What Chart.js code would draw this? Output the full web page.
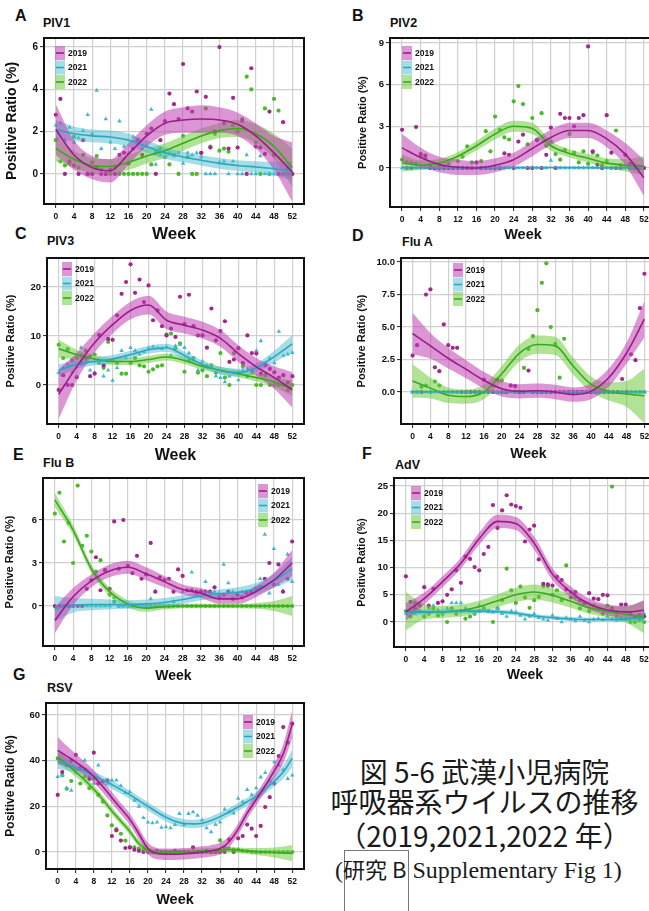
<!DOCTYPE html>
<html>
<head>
<meta charset="utf-8">
<script src="https://cdn.jsdelivr.net/npm/chart.js@4.4.0/dist/chart.umd.min.js"></script>
<style>
  body { margin: 0; width: 649px; height: 911px; overflow: hidden; background: #fff; position: relative; font-family: "Liberation Sans", Arial, sans-serif; }
  canvas { position: absolute; }
  .letter { position: absolute; font-weight: bold; font-size: 16px; line-height: 16px; color: #111; }
  .virus { position: absolute; font-weight: bold; font-size: 12.5px; line-height: 13px; color: #111; }
  .cap { position: absolute; left: 320px; width: 329px; text-align: center; font-family: "Noto Sans CJK JP", sans-serif; font-size: 28px; line-height: 32px; color: #1a1a1a; white-space: nowrap; }
  .src { position: absolute; left: 335px; top: 852px; font-family: "Liberation Serif", serif; font-size: 24px; line-height: 32px; color: #1a1a1a; white-space: nowrap; }
  .src .jp { font-family: "Noto Sans CJK JP", sans-serif; font-size: 22px; }
  .srcbox { position: absolute; left: 344px; top: 850px; width: 63px; height: 70px; border: 1px solid #777; }
</style>
</head>
<body>
<div class="letter" style="left:15px;top:8px">A</div>
<div class="virus" style="left:43px;top:17px">PIV1</div>
<div class="letter" style="left:352px;top:8px">B</div>
<div class="virus" style="left:390px;top:17px">PIV2</div>
<div class="letter" style="left:15px;top:226px">C</div>
<div class="virus" style="left:47px;top:235px">PIV3</div>
<div class="letter" style="left:352px;top:228px">D</div>
<div class="virus" style="left:402px;top:236px">Flu A</div>
<div class="letter" style="left:13px;top:447px">E</div>
<div class="virus" style="left:43px;top:457px">Flu B</div>
<div class="letter" style="left:362px;top:446px">F</div>
<div class="virus" style="left:395px;top:459px">AdV</div>
<div class="letter" style="left:13px;top:667px">G</div>
<div class="virus" style="left:47px;top:682px">RSV</div>

<div class="cap" style="top:755px">図 5-6 武漢小児病院</div>
<div class="cap" style="top:785px">呼吸器系ウイルスの推移</div>
<div class="cap" style="top:819px">（2019,2021,2022 年）</div>
<div class="srcbox"></div>
<div class="src">(<span class="jp">研究 B</span> Supplementary Fig 1)</div>

<script>
// weeks of the weekly points and of the smoothed fits
const weeks = [0,1,2,3,4,5,6,7,8,9,10,11,12,13,14,15,16,17,18,19,20,21,22,23,24,25,26,
  27,28,29,30,31,32,33,34,35,36,37,38,39,40,41,42,43,44,45,46,47,48,49,50,51,52];
const fitWeeks = [0,4,8,12,16,20,24,28,32,36,40,44,48,52];
const fitWeeksFine = [0,2,4,6,8,10,12,14,16,18,20,22,24,26,28,30,32,34,36,38,40,42,44,46,48,50,52];
const xTicks = [0,4,8,12,16,20,24,28,32,36,40,44,48,52];
const years = ['2019', '2021', '2022'];

// A: PIV1
const piv1Pts2019 = [2.8,3.55,0,0.6,0.4,0,1.6,0,0,0.3, 0,0,0.2,0,0.9,1.0,0.5,1.2,1.6,0.9,
  1.9,2.15,0,1.6,2.5,3.8,3.3,2.6,5.2,3.1, 2.95,3.9,1.0,3.65,1.25,2.0,6.0,2.4,1.2,3.6,
  1.25,2.5,0,5.0,1.3,1.25,0.95,2.95,0.9,0, 2.45,0.3,0];
const piv1Pts2021 = [2.3,2.4,1.6,2.2,1.5,1.7,2.05,2.8,1.9,3.95, 1.2,2.6,1.5,1.2,2.5,1.3,1.0,1.75,1.6,1.2,
  1.3,3.05,0.45,0.9,0.8,1.0,0.85,1.0,0.5,1.0, 0.9,1.0,0.8,0,0,0,0.55,0.6,0,0.6,
  0,0,0.9,0,0,0.85,0,0,0,0, 0,0,0];
const piv1Pts2022 = [1.6,0.6,0.4,0.5,1.75,0.3,0.9,0,0.55,0.85, 0.2,0,0,0.35,0,0,0,0,0,0,
  0,0.45,1.0,1.2,0.8,0.45,0.9,0,1.8,0.8, 0,0,1.0,3.1,1.3,1.9,1.1,1.2,1.05,2.3,
  2.0,2.6,4.6,4.0,1.5,0,3.1,0,3.55,3.0, 0,0,0];
const piv1Fit2019 = [2.1,0.9,0.3,0.15,0.95,1.8,2.4,2.55,2.6,2.55,2.35,1.8,1.0,0.1];
const piv1Se2019 = [1.2,0.7,0.55,0.55,0.5,0.5,0.55,0.6,0.65,0.6,0.55,0.6,0.8,1.4];
const piv1Fit2021 = [2.1,1.9,1.8,1.75,1.6,1.3,1.0,0.8,0.65,0.5,0.4,0.33,0.25,0.15];
const piv1Se2021 = [0.45,0.35,0.3,0.3,0.3,0.3,0.28,0.25,0.25,0.25,0.25,0.27,0.32,0.45];
const piv1Fit2022 = [1.2,0.7,0.4,0.35,0.55,0.85,1.1,1.45,1.8,2.05,2.15,1.9,1.3,0.3];
const piv1Se2022 = [0.6,0.4,0.35,0.35,0.35,0.35,0.35,0.35,0.35,0.35,0.4,0.45,0.6,0.9];
const piv1YTicks = [0,2,4,6];
const piv1YLabels = ['0','2','4','6'];

// B: PIV2
const piv2Pts2019 = [2.75,0,0,2.95,1.0,0.9,0,0,0,0, 0,0,0,0,0,0,0.4,0,0,0,
  0,0,1.05,0.95,0,1.9,2.4,0,0,2.0, 0,0.95,2.9,0,3.9,3.6,3.6,3.0,3.6,3.8,
  8.75,1.2,0.25,0,3.8,1.1,0,0,0.95,0.3, 0,0,0];
const piv2Pts2021 = [0,0,0,0,0,0,0,0,0,0, 0,0,0,0,0,0,0,0,0,0,
  0,0,0,0,0,0,0,0,0,0, 0,0,0.55,0,0,0,0,0,0,0,
  0,0,0,0,0,0,0,0,0,0, 0,0,0];
const piv2Pts2022 = [0.6,0.4,0.35,0.3,0.85,0.7,0.2,0,0.1,0, 0.3,0,0.5,0.8,1.55,0.4,0,0.5,2.65,1.2,
  3.7,2.75,2.2,2.05,4.8,5.9,4.6,1.7,3.6,2.05, 3.95,1.6,1.9,1.0,0.6,1.3,2.45,1.1,0.4,1.2,
  0.3,1.1,0.9,0.2,0.5,0,2.7,0.2,0.1,0, 0.2,0.1,0];
const piv2Fit2019 = [1.45,0.75,0.25,0.05,0.0,0.2,0.6,1.4,2.2,2.7,2.7,2.1,1.0,-0.7];
const piv2Se2019 = [1.0,0.7,0.55,0.55,0.5,0.5,0.5,0.55,0.55,0.55,0.55,0.6,0.8,1.3];
const piv2Fit2021 = [0.03,0.02,0.02,0.02,0.02,0.02,0.03,0.03,0.03,0.03,0.03,0.02,0.02,0.02];
const piv2Se2021 = [0.1,0.08,0.07,0.07,0.07,0.07,0.07,0.07,0.07,0.07,0.07,0.07,0.08,0.1];
const piv2Fit2022 = [0.35,0.2,0.35,0.85,1.6,2.45,3.0,2.85,1.6,1.05,0.7,0.35,0.2,0.15];
const piv2Se2022 = [0.6,0.35,0.3,0.3,0.35,0.4,0.4,0.4,0.35,0.3,0.3,0.35,0.45,0.7];
const piv2YTicks = [0,3,6,9];
const piv2YLabels = ['0','3','6','9'];

// C: PIV3
const piv3Pts2019 = [-1,2.0,0,0,1.6,4.5,5.5,1.8,2.3,10.2, 4.0,9.4,9.2,14.2,18.6,21.0,24.6,18.8,21.5,16.9,
  20.3,13.2,15.2,12.0,10.1,11.5,9.8,18.0,12.4,18.4, 12.0,10.1,10.1,7.6,15.6,9.1,11.0,13.0,4.7,5.2,
  7.5,4.5,10.1,6.5,6.4,2.3,4.0,3.3,2.6,1.5, 2.0,0.5,1.8];
const piv3Pts2021 = [2.5,3.5,4.2,2.6,3.8,7.6,4.5,3.0,2.5,4.5, 1.8,3.0,0.9,3.5,7.0,5.5,7.6,7.0,6.3,6.8,
  7.5,7.8,7.5,7.4,7.8,6.0,8.0,8.2,7.6,6.5, 5.0,3.0,4.8,4.0,3.5,1.8,1.5,0.6,1.8,2.5,
  1.0,3.0,3.2,3.0,7.0,9.0,4.5,5.5,4.5,10.9, 6.0,6.3,6.6];
const piv3Pts2022 = [8.2,5.5,7.3,5.0,5.5,6.0,7.0,5.8,6.2,4.5, 3.5,8.8,5.0,4.5,2.3,2.3,4.5,5.5,4.0,3.8,
  2.7,3.2,3.8,4.0,10.3,10.5,7.5,8.5,2.7,5.0, 5.5,2.5,3.0,1.8,4.0,2.5,6.5,1.5,0,6.5,
  2.5,3.8,1.8,2.5,0,0,2.0,0,0,0, 0,-1,0];
const piv3Fit2019 = [-1.9,3.7,8.6,12.3,15.2,16.3,13.2,12.2,11.2,9.5,6.4,3.7,1.5,-1.0];
const piv3Se2019 = [5.0,2.8,2.0,1.8,1.8,1.9,1.8,1.7,1.7,1.7,1.7,1.8,2.3,3.6];
const piv3Fit2021 = [3.0,4.2,4.8,5.3,6.2,7.2,7.6,6.0,4.2,2.9,2.5,3.5,5.8,8.4];
const piv3Se2021 = [1.2,0.9,0.8,0.8,0.8,0.8,0.8,0.8,0.8,0.8,0.8,0.9,1.2,1.8];
const piv3Fit2022 = [7.4,6.2,5.3,4.8,4.8,5.2,5.7,5.0,3.8,3.0,2.3,1.5,0.6,-0.7];
const piv3Se2022 = [1.8,1.0,0.8,0.7,0.7,0.7,0.7,0.7,0.7,0.7,0.7,0.8,1.0,1.6];
const piv3YTicks = [0,10,20];
const piv3YLabels = ['0','10','20'];

// D: Flu A
const fluAPts2019 = [2.8,3.6,0,7.5,7.9,1.9,1.6,5.2,3.6,3.4, 3.4,0,0,0,0,0,0.95,0,0,0.95,
  0,0,0.5,0.45,0,0,1.65,0,0,0, 0,0,0,0,0,0,0,0,0,0,
  0,0,0,0,0,0,0,1.0,0,2.9, 2.45,6.45,9.1];
const fluAPts2021 = [0,0,0,0,0,0,0,0,0,0, 0,0,0,0,0,0,0,0,0,0,
  0,0,0,0,0,0,0,0,0,0, 0,0,0,0,0,0,0,0,0,0,
  0,0,0,0,0,0,0,0,0,0, 0,0,0];
const fluAPts2022 = [0,0,0.4,0.5,0,0.8,0.5,0,0,0, 0,0,0,0,0,0,0,0,0.5,0,
  0.9,0,0.5,0,0,1.85,3.3,4.3,6.3,8.4, 9.9,5.0,3.7,1.1,4.1,0,0,0,0,0,
  0,0,0,0,0,0,0,0,0,0, 0,0,0];
const fluAFit2019 = [4.5,3.55,2.6,1.75,0.9,0.25,0.05,0.1,0.0,-0.2,0.05,1.1,3.0,5.6];
const fluASe2019 = [1.6,1.0,0.8,0.7,0.65,0.6,0.55,0.55,0.55,0.55,0.6,0.7,0.8,1.4];
const fluAFit2021 = [0.02,0.02,0.02,0.02,0.02,0.02,0.02,0.02,0.02,0.02,0.02,0.02,0.02,0.02];
const fluASe2021 = [0.1,0.08,0.07,0.07,0.07,0.07,0.07,0.07,0.07,0.07,0.07,0.07,0.08,0.1];
const fluAFit2022 = [0.85,0.3,-0.25,-0.35,0.0,1.4,3.0,3.65,3.55,2.0,0.6,0.05,-0.15,-0.3];
const fluASe2022 = [1.3,0.8,0.6,0.55,0.55,0.6,0.65,0.7,0.7,0.65,0.6,0.7,1.0,2.1];
const fluAYTicks = [0,2.5,5,7.5,10];
const fluAYLabels = ['0.0','2.5','5.0','7.5','10.0'];

// E: Flu B
const fluBPts2019 = [0,0,0,0,0,0,0,1.2,1.8,3.4, 1.1,2.5,1.2,5.9,2.6,6.0,2.8,2.3,3.5,1.9,
  2.2,4.4,1.0,2.0,1.8,1.9,1.0,2.55,2.1,1.1, 1.1,1.0,1.0,1.0,1.0,1.3,0.6,0.8,1.0,0.5,
  0.8,0.6,0.9,1.0,1.2,1.3,1.9,3.0,1.5,2.9, 1.0,1.9,4.5];
const fluBPts2021 = [0,0,0,0,0,0,0,0,0,0, 0,0,0,0.6,0,0,0,0,0,0,
  0,0.5,1.0,0,0,0,0.3,0,1.0,0, 2.35,0.8,1.0,1.7,1.0,1.0,0.9,2.9,1.6,1.0,
  0.7,1.0,1.0,1.0,1.2,1.9,5.0,0.9,4.0,1.5, 1.05,3.6,1.7];
const fluBPts2022 = [6.45,7.9,4.5,5.8,3.0,8.4,4.2,4.9,3.8,2.4, 3.2,2.5,0.8,0.3,0,0,0,0,0,0,
  0,0,0,0,0,0,0,0,0,0, 0,0,0,0,0,0,0,0,0,0,
  0,0,0,0,0,0,0,0,0,0, 0,0,0];
const fluBFit2019 = [-1.0,0.65,1.75,2.45,2.7,2.25,1.7,1.15,0.9,0.5,0.5,1.0,1.8,3.0];
const fluBSe2019 = [0.9,0.6,0.45,0.45,0.45,0.45,0.4,0.35,0.35,0.35,0.35,0.4,0.5,0.9];
const fluBFit2021 = [-0.2,0.05,0.1,0.1,0.1,0.15,0.25,0.45,0.7,0.85,0.95,1.2,1.75,2.6];
const fluBSe2021 = [0.9,0.5,0.4,0.35,0.3,0.3,0.3,0.3,0.3,0.3,0.35,0.4,0.5,0.8];
const fluBFit2022 = [7.4,5.3,2.6,1.0,0.15,-0.15,-0.05,0.0,0.0,0.0,0.0,0.0,0.0,0.0];
const fluBSe2022 = [0.5,0.35,0.3,0.3,0.25,0.25,0.2,0.15,0.15,0.15,0.15,0.2,0.35,0.7];
const fluBYTicks = [0,3,6];
const fluBYLabels = ['0','3','6'];

// F: AdV
const adVPts2019 = [8.4,3.7,2.5,3.0,6.4,3.0,6.1,3.5,3.8,5.0, 6.0,9.5,7.2,12.0,11.6,10.1,9.5,12.5,13.8,21.5,
  17.3,20.5,23.3,21.6,21.3,21.0,14.8,17.0,17.7,11.5, 7.0,6.9,6.7,8.3,7.7,6.0,4.5,5.5,4.0,3.5,
  5.3,4.3,4.2,5.0,4.9,2.5,1.8,3.2,3.2,1.5, 1.0,1.2,1.0];
const adVPts2021 = [1.5,2.5,1.5,2.0,1.8,2.5,3.0,2.2,1.5,2.5, 3.5,3.5,3.5,2.5,2.0,1.5,3.0,2.5,2.0,1.8,
  2.5,1.5,1.0,2.0,1.8,1.2,0.5,1.0,1.5,0.8, 0.5,0.3,1.2,0.6,0,0.8,0.5,0.2,1.0,0.3,
  0,0.5,0.6,0.4,1.0,0.5,0.3,0.8,0.5,0.2, 1.0,0.5,1.5];
const adVPts2022 = [2.0,1.0,3.5,2.0,1.0,1.5,2.5,1.2,1.5,0, 2.5,1.5,2.0,0.6,1.0,1.5,2.0,2.5,2.0,0,
  2.5,4.0,9.8,5.8,3.5,6.5,4.5,2.6,4.0,4.6, 6.6,6.6,5.0,5.8,4.0,10.4,5.5,4.5,2.5,3.5,
  2.0,3.0,2.5,1.5,3.0,24.9,1.0,0.5,0.5,0, 0,0.3,0];
const adVFit2019 = [1.85,4.3,7.4,10.8,15.3,18.5,18.1,14.5,8.8,5.5,3.3,2.2,1.85,2.15];
const adVSe2019 = [1.6,1.1,1.0,1.0,1.1,1.2,1.2,1.2,1.1,1.0,1.0,1.0,1.1,1.8];
const adVFit2021 = [1.7,1.8,1.9,2.0,2.0,1.9,1.6,1.1,0.8,0.55,0.45,0.45,0.55,0.7];
const adVSe2021 = [0.6,0.45,0.4,0.4,0.4,0.4,0.4,0.35,0.35,0.35,0.35,0.35,0.4,0.6];
const adVFit2022 = [2.0,1.85,1.85,2.1,2.8,3.9,5.0,5.5,4.9,3.8,2.6,1.9,1.4,0.9];
const adVSe2022 = [3.5,1.4,1.1,1.1,1.1,1.2,1.3,1.4,1.3,1.2,1.1,1.1,1.5,3.0];
const adVYTicks = [0,5,10,15,20,25];
const adVYLabels = ['0','5','10','15','20','25'];

// G: RSV (fits every 2 weeks)
const rsvPts2019 = [25,35,38,40,42.5,37,36,32,43.5,30, 31,31.4,7,9.5,5,1.75,2,1,0.5,0,
  0,0,0.5,0,0,0,0.5,0,0,0, 2,0,0,0.5,0,0,0,0,5.4,0,
  6,7,12,10.2,7,11.4,19.7,24,30,42, 54.7,47.9,56.2];
const rsvPts2021 = [33,33.6,28,27,35,36,40.1,33,30,38, 31,30,31.5,31.4,29,26,26.3,22.6,20,15,
  13,12.7,13,10.7,11,10.5,12,16.8,12,16.8, 17.5,16,14,10.5,8.8,12,13,18.7,17.5,17,
  23.4,22,27.3,25,28,32.8,34.7,31,39.4,38, 36,32.1,33.6];
const rsvPts2022 = [41,33.6,27.7,31.1,36,30,33,28,32.1,25, 22,16,11.7,10,8,5,2,2,1.5,1,
  0.5,0,0,0,0,0,0,0,0,0, 0,0,0,0,0,0,5.1,2,1.5,1,
  1,0.5,0.3,0,0,0,0,0,0,0, 0,0,0];
const rsvFit2019 = [44.5,42,39.5,36.5,33,28.7,23.8,19,14.3,8,1.5,-0.7,-1,-1,-0.8,-0.5,0,0.5,1.5,4.5,10,17,23,29,35.5,43,56];
const rsvSe2019 = [6,4.5,3.5,3,2.8,2.6,2.5,2.5,2.5,2.5,2.5,2.5,2.5,2.5,2.5,2.5,2.5,2.5,2.5,2.5,2.5,2.5,2.5,2.7,3.2,4.2,6];
const rsvFit2021 = [40,38.5,37,35.3,33.5,31.5,29.5,27.3,25,22.5,20,17.5,15.2,13.5,12.5,12.3,12.6,13.8,15.5,17.5,19.7,22,24.5,27.5,31,35,41];
const rsvSe2021 = [3.5,2.8,2.3,2,1.8,1.8,1.8,1.8,1.8,1.8,1.8,1.8,1.8,1.8,1.8,1.8,1.8,1.8,1.8,1.8,1.8,1.8,1.8,1.9,2.2,2.8,3.8];
const rsvFit2022 = [41.5,38.5,35,31.5,27.5,23,18,13.5,9,3.6,0.7,0,-0.2,-0.2,0,0.2,0.4,0.6,0.8,1.0,0.8,0.5,0.2,0,-0.2,-0.4,-0.6];
const rsvSe2022 = [3,2.5,2,1.8,1.7,1.6,1.6,1.6,1.6,1.6,1.5,1.3,1.2,1.2,1.2,1.2,1.2,1.2,1.2,1.2,1.2,1.3,1.5,1.8,2.2,2.8,3.5];
const rsvYTicks = [0,20,40,60];
const rsvYLabels = ['0','20','40','60'];

const lineColors = ['#9c1d86', '#2ba8c0', '#36ab1d'];
const pointColors = ['#a3288c', '#45b7ca', '#4cb82c'];
const bandColors = ['rgba(192,62,178,0.55)', 'rgba(78,188,208,0.5)', 'rgba(100,200,48,0.5)'];

const panels = [
  { pts: [piv1Pts2019, piv1Pts2021, piv1Pts2022], fit: [piv1Fit2019, piv1Fit2021, piv1Fit2022],
    se: [piv1Se2019, piv1Se2021, piv1Se2022], fitX: fitWeeks, yTicks: piv1YTicks, yLabels: piv1YLabels,
    yMin: -1.42, yMax: 6.43, box: { l: 44, t: 38, r: 304, b: 204 }, titleX: 12, titleSize: 14,
    weekY: 235, weekSize: 17, tickSize: 10, key: { x: 55, y: 46 } },
  { pts: [piv2Pts2019, piv2Pts2021, piv2Pts2022], fit: [piv2Fit2019, piv2Fit2021, piv2Fit2022],
    se: [piv2Se2019, piv2Se2021, piv2Se2022], fitX: fitWeeks, yTicks: piv2YTicks, yLabels: piv2YLabels,
    yMin: -2.81, yMax: 9.36, box: { l: 390, t: 38, r: 656, b: 207 }, titleX: 363, titleSize: 11,
    weekY: 235, weekSize: 14.5, tickSize: 9.5, key: { x: 402, y: 46 } },
  { pts: [piv3Pts2019, piv3Pts2021, piv3Pts2022], fit: [piv3Fit2019, piv3Fit2021, piv3Fit2022],
    se: [piv3Se2019, piv3Se2021, piv3Se2022], fitX: fitWeeks, yTicks: piv3YTicks, yLabels: piv3YLabels,
    yMin: -7.96, yMax: 25.9, box: { l: 47, t: 258, r: 304, b: 424 }, titleX: 11, titleSize: 11,
    weekY: 455, weekSize: 16, tickSize: 9.5, key: { x: 62, y: 262 } },
  { pts: [fluAPts2019, fluAPts2021, fluAPts2022], fit: [fluAFit2019, fluAFit2021, fluAFit2022],
    se: [fluASe2019, fluASe2021, fluASe2022], fitX: fitWeeks, yTicks: fluAYTicks, yLabels: fluAYLabels,
    yMin: -2.46, yMax: 10.31, box: { l: 401, t: 258, r: 656, b: 424 }, titleX: 362, titleSize: 11,
    weekY: 455, weekSize: 14, tickSize: 9.5, key: { x: 453, y: 263 } },
  { pts: [fluBPts2019, fluBPts2021, fluBPts2022], fit: [fluBFit2019, fluBFit2021, fluBFit2022],
    se: [fluBSe2019, fluBSe2021, fluBSe2022], fitX: fitWeeks, yTicks: fluBYTicks, yLabels: fluBYLabels,
    yMin: -2.79, yMax: 8.93, box: { l: 43, t: 478, r: 304, b: 646 }, titleX: 10, titleSize: 11,
    weekY: 677, weekSize: 14, tickSize: 9.5, key: { x: 258, y: 484 } },
  { pts: [adVPts2019, adVPts2021, adVPts2022], fit: [adVFit2019, adVFit2021, adVFit2022],
    se: [adVSe2019, adVSe2021, adVSe2022], fitX: fitWeeks, yTicks: adVYTicks, yLabels: adVYLabels,
    yMin: -4.6, yMax: 26.47, box: { l: 394, t: 478, r: 656, b: 647 }, titleX: 362, titleSize: 10.5,
    weekY: 676, weekSize: 14, tickSize: 9.5, key: { x: 411, y: 486 } },
  { pts: [rsvPts2019, rsvPts2021, rsvPts2022], fit: [rsvFit2019, rsvFit2021, rsvFit2022],
    se: [rsvSe2019, rsvSe2021, rsvSe2022], fitX: fitWeeksFine, yTicks: rsvYTicks, yLabels: rsvYLabels,
    yMin: -7.45, yMax: 65.26, box: { l: 46, t: 703, r: 304, b: 869 }, titleX: 10, titleSize: 12,
    weekY: 900, weekSize: 14.5, tickSize: 9.5, key: { x: 243, y: 715 } },
];

// black frame round the plotting area
const framePlugin = {
  id: 'frameBox',
  afterDatasetsDraw(chart) {
    const a = chart.chartArea;
    const ctx = chart.ctx;
    ctx.save();
    ctx.strokeStyle = '#111';
    ctx.lineWidth = 2;
    ctx.strokeRect(a.left, a.top, a.right - a.left, a.bottom - a.top);
    ctx.restore();
  }
};

// small year key inside the plot, ggplot style
const yearKeyPlugin = {
  id: 'yearKey',
  afterDraw(chart, args, opts) {
    const ctx = chart.ctx;
    ctx.save();
    for (let i = 0; i < years.length; i++) {
      const y = opts.y + i * 14.5;
      ctx.fillStyle = bandColors[i];
      ctx.fillRect(opts.x, y, 10, 14);
      ctx.strokeStyle = lineColors[i];
      ctx.lineWidth = 1.6;
      ctx.beginPath();
      ctx.moveTo(opts.x + 1, y + 7);
      ctx.lineTo(opts.x + 9, y + 7);
      ctx.stroke();
      ctx.fillStyle = '#111';
      ctx.font = 'bold 8.5px "Liberation Sans", Arial, sans-serif';
      ctx.textBaseline = 'middle';
      ctx.fillText(years[i], opts.x + 13, y + 7.5);
    }
    ctx.restore();
  }
};

function makeDatasets(p) {
  const out = [];
  for (let i = 0; i < 3; i++) {
    const fit = p.fit[i];
    const se = p.se[i];
    out.push({
      type: 'line', label: years[i],
      data: p.fitX.map((w, k) => ({ x: w, y: fit[k] })),
      borderColor: lineColors[i], borderWidth: 1.6, pointRadius: 0,
      cubicInterpolationMode: 'monotone', fill: false, order: 1
    });
    out.push({
      type: 'line', label: years[i] + ' hi',
      data: p.fitX.map((w, k) => ({ x: w, y: fit[k] + se[k] })),
      borderColor: 'rgba(0,0,0,0)', borderWidth: 0, backgroundColor: bandColors[i], pointRadius: 0,
      cubicInterpolationMode: 'monotone', fill: '+1', order: 2
    });
    out.push({
      type: 'line', label: years[i] + ' lo',
      data: p.fitX.map((w, k) => ({ x: w, y: fit[k] - se[k] })),
      borderColor: 'rgba(0,0,0,0)', borderWidth: 0, pointRadius: 0,
      cubicInterpolationMode: 'monotone', fill: false, order: 2
    });
    out.push({
      type: 'scatter', label: years[i] + ' pts',
      data: p.pts[i].map((v, k) => ({ x: weeks[k], y: v })),
      pointStyle: i === 1 ? 'triangle' : 'circle',
      pointRadius: i === 1 ? 2.6 : 2.1,
      backgroundColor: pointColors[i], borderColor: 'rgba(0,0,0,0)', borderWidth: 0, order: 3
    });
  }
  return out;
}

function drawPanel(p) {
  const left = Math.round(p.titleX - p.titleSize * 0.6);
  const top = p.box.t - 8;
  const bottom = Math.round(p.weekY + p.weekSize * 0.6);
  const right = p.box.r + 4;
  const yW = p.box.l - left;
  const xH = bottom - p.box.b;

  const canvas = document.createElement('canvas');
  canvas.width = right - left;
  canvas.height = bottom - top;
  canvas.style.left = left + 'px';
  canvas.style.top = top + 'px';
  document.body.appendChild(canvas);

  const grid = { color: '#d0d0d0', lineWidth: 1.2, tickColor: '#222', tickWidth: 1, tickLength: 4, drawTicks: true };

  new Chart(canvas.getContext('2d'), {
    type: 'scatter',
    data: { datasets: makeDatasets(p) },
    options: {
      responsive: false,
      animation: false,
      devicePixelRatio: 1,
      layout: { padding: { top: 8, right: 4, left: 0, bottom: 0 } },
      plugins: {
        legend: { display: false },
        tooltip: { enabled: false },
        yearKey: { x: p.key.x - left, y: p.key.y - top }
      },
      scales: {
        x: {
          type: 'linear', min: -2.6, max: 54.6,
          afterBuildTicks: s => { s.ticks = xTicks.map(v => ({ value: v })); },
          afterFit: s => { s.height = xH; },
          grid: grid,
          border: { display: false },
          ticks: { font: { size: 8.5, weight: 'bold' }, color: '#111', padding: 4, maxRotation: 0, autoSkip: false,
                   callback: v => String(v) },
          title: { display: true, text: 'Week', font: { size: p.weekSize, weight: 'bold' }, color: '#111', padding: 0 }
        },
        y: {
          type: 'linear', min: p.yMin, max: p.yMax,
          afterBuildTicks: s => { s.ticks = p.yTicks.map(v => ({ value: v })); },
          afterFit: s => { s.width = yW; },
          grid: grid,
          border: { display: false },
          ticks: { font: { size: p.tickSize, weight: 'bold' }, color: '#111', padding: 2,
                   callback: v => p.yLabels[p.yTicks.indexOf(v)] },
          title: { display: true, text: 'Positive Ratio (%)', font: { size: p.titleSize, weight: 'bold' }, color: '#111', padding: 0 }
        }
      }
    },
    plugins: [framePlugin, yearKeyPlugin]
  });
}

Chart.defaults.font.family = '"Liberation Sans", Arial, sans-serif';
for (const p of panels) {
  drawPanel(p);
}
</script>
</body>
</html>
